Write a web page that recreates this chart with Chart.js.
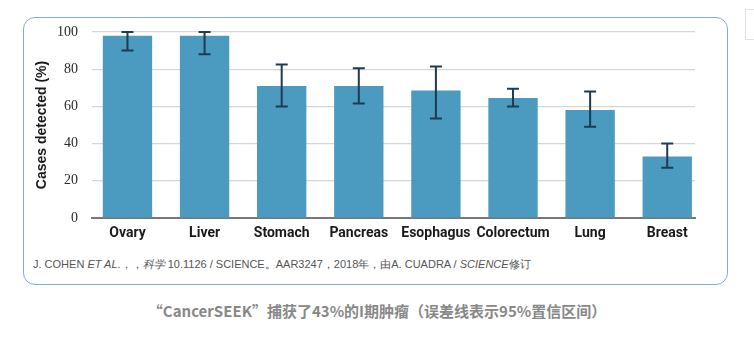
<!DOCTYPE html>
<html>
<head>
<meta charset="utf-8">
<script src="https://cdn.jsdelivr.net/npm/chart.js@4/dist/chart.umd.min.js"></script>
<style>
  body { margin: 0; background: #fff; width: 754px; height: 337px; position: relative; overflow: hidden; }
  .card { position: absolute; left: 23px; top: 17px; width: 703px; height: 266px; border: 1.5px solid #86a9dc; border-radius: 12px; }
  .side { position: absolute; left: 745px; top: 9px; width: 20px; height: 29px; border: 1px solid #e2e2e2; }
  #wrap { position: absolute; left: 0; top: 0; width: 754px; height: 255px; }
  .note { position: absolute; left: 33px; top: 257px; font: 11px "Liberation Sans Narrow", "Liberation Sans", sans-serif; color: #555; white-space: nowrap; }
  .caption { position: absolute; left: 0; width: 754px; top: 300px; text-align: center; font: bold 15px "Noto Sans CJK SC", "Liberation Sans", sans-serif; color: #888; }
</style>
</head>
<body>
<div class="card"></div>
<div class="side"></div>
<div id="wrap"><canvas id="myChart"></canvas></div>
<div class="note">J. COHEN <i>ET AL</i>.，，<i>科学</i> 10.1126 / SCIENCE。AAR3247，2018年，由A. CUADRA / <i>SCIENCE</i>修订</div>
<div class="caption">“CancerSEEK”捕获了43%的I期肿瘤（误差线表示95%置信区间）</div>
<script>
const categories = ['Ovary', 'Liver', 'Stomach', 'Pancreas', 'Esophagus', 'Colorectum', 'Lung', 'Breast'];
const detected = [98, 98, 71, 71, 68.5, 64.5, 58, 33];
const ciLow = [90, 88, 60, 61.5, 53.5, 60, 49, 27];
const ciHigh = [100, 100, 82.5, 80.5, 81.5, 69.5, 68, 40];
const yTicks = [0, 20, 40, 60, 80, 100];

const errorBars = {
  id: 'errorBars',
  afterDatasetsDraw(chart) {
    const ctx = chart.ctx;
    const x = chart.scales.x, y = chart.scales.y;
    ctx.save();
    ctx.strokeStyle = '#1e3b52';
    ctx.lineWidth = 2;
    categories.forEach((c, i) => {
      const px = x.getPixelForValue(i);
      const top = y.getPixelForValue(ciHigh[i]);
      const bot = y.getPixelForValue(ciLow[i]);
      ctx.beginPath();
      ctx.moveTo(px, top); ctx.lineTo(px, bot);
      ctx.moveTo(px - 6, top); ctx.lineTo(px + 6, top);
      ctx.moveTo(px - 6, bot); ctx.lineTo(px + 6, bot);
      ctx.stroke();
    });
    ctx.restore();
  }
};

new Chart(document.getElementById('myChart'), {
  type: 'bar',
  data: {
    datasets: [{
      data: detected.map((v, i) => ({ x: i, y: v })),
      backgroundColor: '#4b9bc0',
      barPercentage: 0.64,
      categoryPercentage: 1
    }]
  },
  options: {
    responsive: true,
    maintainAspectRatio: false,
    animation: false,
    layout: { padding: { left: 28, right: 59, top: 32, bottom: 13 } },
    plugins: { legend: { display: false }, tooltip: { enabled: false } },
    scales: {
      x: {
        type: 'linear',
        offset: false,
        min: -0.46,
        max: 7.36,
        afterBuildTicks: s => { s.ticks = categories.map((c, i) => ({ value: i })); },
        afterFit: s => { s.height = 24; },
        grid: { display: false, drawTicks: false, offset: false },
        border: { color: '#777', width: 2 },
        ticks: {
          autoSkip: false,
          maxRotation: 0,
          padding: 7,
          color: '#1a1a1a',
          font: { family: 'Roboto', size: 14, weight: 'bold' },
          callback: v => categories[v]
        }
      },
      y: {
        min: 0,
        max: 100,
        afterBuildTicks: s => { s.ticks = yTicks.map(v => ({ value: v })); },
        afterFit: s => { s.width = 64; },
        border: { display: false },
        grid: { color: c => c.tick && c.tick.value === 0 ? 'rgba(0,0,0,0)' : '#d6d6d6', drawTicks: false, lineWidth: 1.2 },
        ticks: {
          padding: 14,
          color: '#2a2a2a',
          font: { family: 'Liberation Sans Narrow', size: 14 }
        },
        title: {
          display: true,
          text: 'Cases detected (%)',
          color: '#1a1a1a',
          padding: { top: 6, bottom: 0 },
          font: { family: 'Liberation Sans', size: 14, weight: 'bold' }
        }
      }
    }
  },
  plugins: [errorBars]
});
</script>
</body>
</html>
